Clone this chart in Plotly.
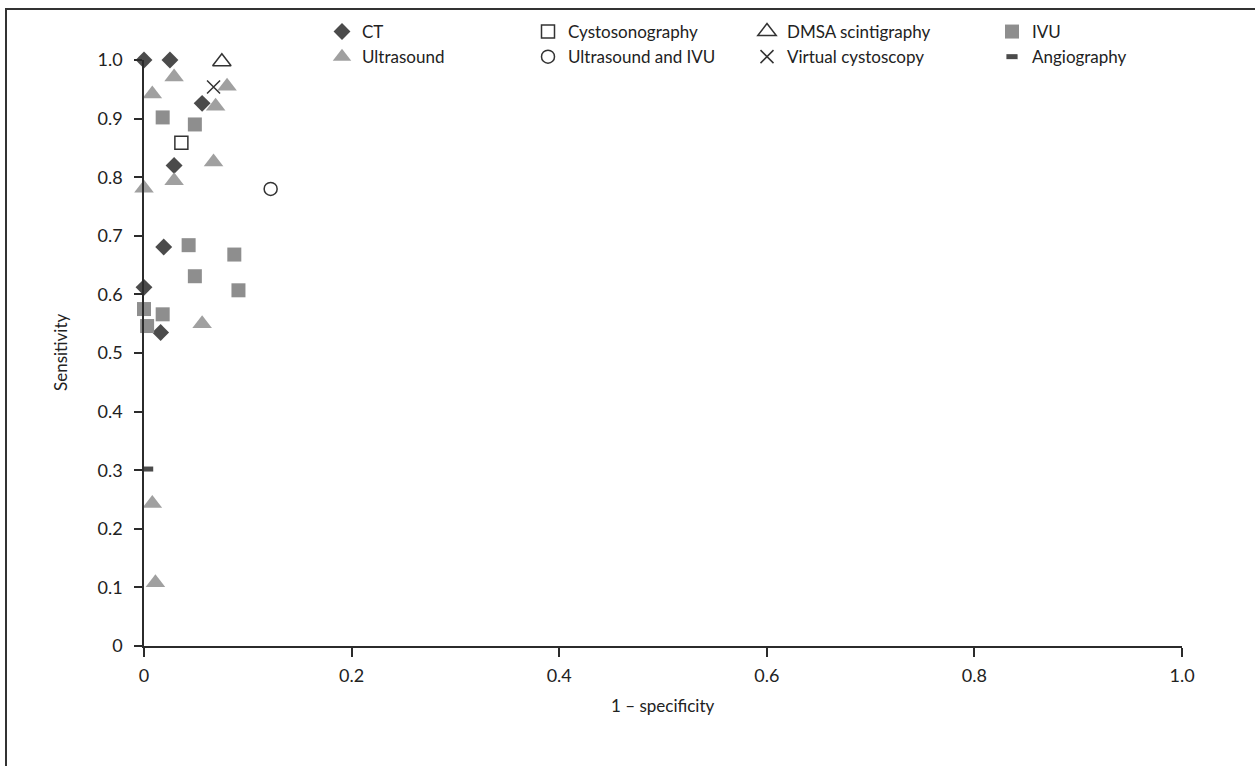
import plotly.graph_objects as go

# ---- data (1 - specificity, sensitivity) ----
ct_x = [0.0, 0.025, 0.056, 0.029, 0.019, 0.0, 0.016]
ct_y = [1.0, 1.0, 0.926, 0.820, 0.681, 0.612, 0.535]

us_x = [0.029, 0.080, 0.008, 0.069, 0.067, 0.029, 0.0, 0.056, 0.008, 0.011]
us_y = [0.971, 0.955, 0.942, 0.921, 0.826, 0.794, 0.781, 0.550, 0.243, 0.108]

cysto_x = [0.036]
cysto_y = [0.859]

usivu_x = [0.122]
usivu_y = [0.780]

dmsa_x = [0.075]
dmsa_y = [0.997]

vc_x = [0.067]
vc_y = [0.954]

ivu_x = [0.018, 0.049, 0.043, 0.087, 0.049, 0.091, 0.0, 0.018, 0.003]
ivu_y = [0.902, 0.890, 0.684, 0.668, 0.631, 0.607, 0.575, 0.566, 0.546]

angio_x = [0.0035]
angio_y = [0.302]

x_ticks = [0, 0.2, 0.4, 0.6, 0.8, 1.0]
x_ticklabels = ["0", "0.2", "0.4", "0.6", "0.8", "1.0"]
y_ticks = [0, 0.1, 0.2, 0.3, 0.4, 0.5, 0.6, 0.7, 0.8, 0.9, 1.0]
y_ticklabels = ["0", "0.1", "0.2", "0.3", "0.4", "0.5", "0.6", "0.7", "0.8", "0.9", "1.0"]

x_title = "1 – specificity"
y_title = "Sensitivity"

# ---- styling ----
W, H = 1255, 766
L, R, T, B = 144, 1182, 60, 646
FONT = "Lato"
DARK = "#4b4b4b"
LIGHT = "#a0a0a0"
MID = "#8e8e8e"
AX = "#2b2b2b"
TXT = "#222222"

fig = go.Figure()


def add(name, x, y, symbol, size, color, legend, filled=True, lw=0):
    marker = dict(symbol=symbol, size=size)
    if filled:
        marker.update(color=color, line=dict(width=0))
    else:
        marker.update(color=color, line=dict(width=lw, color=color))
    fig.add_trace(go.Scatter(x=x, y=y, mode="markers", name=name, marker=marker,
                             legend=legend, cliponaxis=False))


add("CT", ct_x, ct_y, "diamond", 13, DARK, "legend")
add("Ultrasound", us_x, us_y, "triangle-up", 17, LIGHT, "legend")
add("Cystosonography", cysto_x, cysto_y, "square-open", 13, "#333333", "legend2", False, 1.5)
add("Ultrasound and IVU", usivu_x, usivu_y, "circle-open", 13, "#333333", "legend2", False, 1.5)
add("DMSA scintigraphy", dmsa_x, dmsa_y, "triangle-up-open", 16, "#333333", "legend3", False, 1.5)
add("Virtual cystoscopy", vc_x, vc_y, "x-thin-open", 13, "#333333", "legend3", False, 1.5)
add("IVU", ivu_x, ivu_y, "square", 14, MID, "legend4")
add("Angiography", angio_x, angio_y, "line-ew-open", 8, DARK, "legend4", False, 5)

leg_common = dict(xref="container", yref="container", xanchor="left", yanchor="top",
                  orientation="v", bgcolor="rgba(0,0,0,0)", tracegroupgap=0,
                  font=dict(family=FONT, size=17, color=TXT), itemsizing="trace")
cols_px = [322, 528, 747, 992]
names = ["legend", "legend2", "legend3", "legend4"]
legends = {}
for nm, px in zip(names, cols_px):
    legends[nm] = dict(leg_common, x=px / W, y=1 - 14 / H)

fig.update_layout(
    width=W, height=H,
    margin=dict(l=L, r=W - R, t=T, b=H - B, autoexpand=False),
    paper_bgcolor="white", plot_bgcolor="white",
    font=dict(family=FONT, size=17, color=TXT),
    showlegend=True,
    **legends,
    xaxis=dict(range=[0, 1], tickvals=x_ticks, ticktext=x_ticklabels,
               showgrid=False, zeroline=False, showline=True, linecolor=AX, linewidth=1.5,
               ticks="outside", ticklen=9, tickwidth=1.5, tickcolor=AX,
               ticklabelstandoff=4, tickfont=dict(size=18)),
    yaxis=dict(range=[0, 1], tickvals=y_ticks, ticktext=y_ticklabels,
               showgrid=False, zeroline=False, showline=True, linecolor=AX, linewidth=1.5,
               ticks="outside", ticklen=8, tickwidth=1.5, tickcolor=AX,
               ticklabelstandoff=8, tickfont=dict(size=18)),
)

# axis titles
fig.add_annotation(text=x_title, xref="paper", yref="paper", x=0.5, y=-(705 - B) / (B - T),
                   showarrow=False, xanchor="center", yanchor="middle", font=dict(size=17))
fig.add_annotation(text=y_title, xref="paper", yref="paper", x=-(L - 60) / (R - L), y=0.5,
                   showarrow=False, xanchor="center", yanchor="middle", textangle=-90,
                   font=dict(size=17))

# outer frame (left and top edges visible, others run off the page)
fig.add_shape(type="rect", xref="paper", yref="paper",
              x0=(6 - L) / (R - L), x1=1.2, y0=-0.3, y1=(B - 9) / (B - T),
              line=dict(color="#333333", width=2), fillcolor="rgba(0,0,0,0)", layer="below")

fig.write_html("out.html")
